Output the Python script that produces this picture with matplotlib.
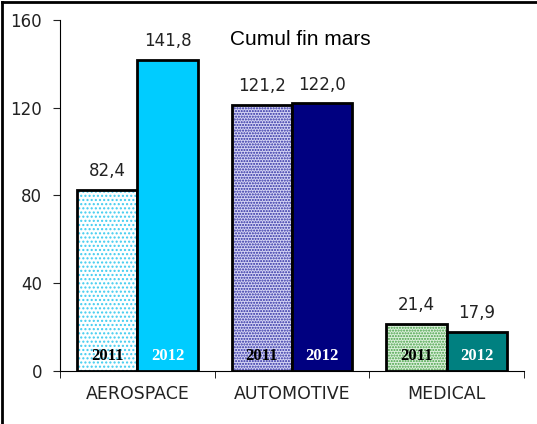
import matplotlib.pyplot as plt
from matplotlib.lines import Line2D
import numpy as np

categories = ["AEROSPACE", "AUTOMOTIVE", "MEDICAL"]
valori_2011 = [82.4, 121.2, 21.4]
valori_2012 = [141.8, 122.0, 17.9]
etichette_2011 = ["82,4", "121,2", "21,4"]
etichette_2012 = ["141,8", "122,0", "17,9"]
anni = ["2011", "2012"]

colori_2012 = ["#00ccff", "#000080", "#008080"]
fondo_2011 = ["white", "#d4d4f4", "#dcf0dc"]
colori_punti = ["#40ccf0", "#2a2aa0", "#44a044"]
tratteggi = ["....", "......", "......"]

fig = plt.figure(figsize=(5.37, 4.24), dpi=100)
ax = fig.add_axes([0.112, 0.125, 0.864, 0.828])

plt.rcParams["hatch.linewidth"] = 1.0
x = np.arange(len(categories))
w = 0.39

for i in range(len(categories)):
    # barra 2011: prima i puntini, poi il bordo nero
    ax.bar(x[i] - w / 2, valori_2011[i], w, color=fondo_2011[i], hatch=tratteggi[i],
           edgecolor=colori_punti[i], linewidth=0, zorder=2)
    ax.bar(x[i] - w / 2, valori_2011[i], w, color="none", edgecolor="black",
           linewidth=2, zorder=3)
    ax.bar(x[i] + w / 2, valori_2012[i], w, color=colori_2012[i],
           edgecolor="black", linewidth=2, zorder=3)

    ax.annotate(etichette_2011[i], (x[i] - w / 2, valori_2011[i]), xytext=(0, 7),
                textcoords="offset points", ha="center", va="bottom",
                fontsize=12, color="#222222")
    ax.annotate(etichette_2012[i], (x[i] + w / 2, valori_2012[i]), xytext=(0, 7),
                textcoords="offset points", ha="center", va="bottom",
                fontsize=12, color="#222222")

    ax.text(x[i] - w / 2, 3.0, anni[0], ha="center", va="bottom",
            fontsize=12, fontweight="bold", family="Liberation Serif",
            color="black", zorder=4)
    ax.text(x[i] + w / 2, 3.0, anni[1], ha="center", va="bottom",
            fontsize=12, fontweight="bold", family="Liberation Serif",
            color="white", zorder=4)

ax.set_xlim(-0.5, 2.5)
ax.set_ylim(0, 160)
ax.set_yticks([0, 40, 80, 120, 160])
ax.set_xticks(np.arange(len(categories)))
ax.set_xticklabels(categories)
ax.set_xticks([-0.5, 0.5, 1.5, 2.5], minor=True)
ax.tick_params(axis="x", which="major", length=0, pad=10, labelsize=12.5,
               colors="#222222")
ax.tick_params(axis="x", which="minor", length=5, direction="out")
ax.tick_params(axis="y", length=5, labelsize=12, colors="#222222", pad=8)
ax.spines["top"].set_visible(False)
ax.spines["right"].set_visible(False)

ax.text(0.517, 0.97, "Cumul fin mars", transform=ax.transAxes, ha="center",
        va="top", fontsize=15, family="Liberation Sans")

# cornice esterna (solo sinistra e alto)
fig.add_artist(Line2D([0.004, 0.004], [0, 0.996], transform=fig.transFigure,
                      color="black", linewidth=2))
fig.add_artist(Line2D([0.004, 1], [0.996, 0.996], transform=fig.transFigure,
                      color="black", linewidth=2))

plt.savefig("out.png", dpi=100)
